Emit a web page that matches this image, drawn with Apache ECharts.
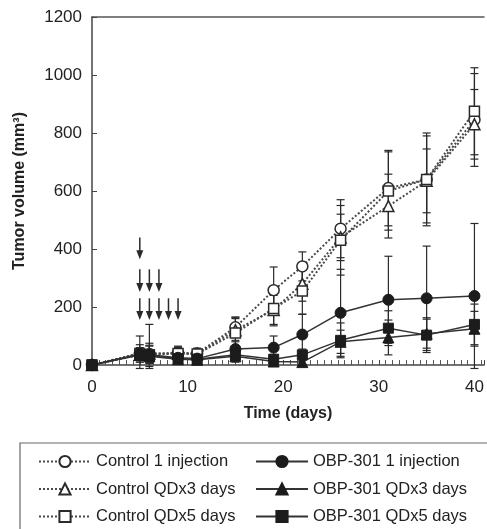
<!DOCTYPE html>
<html><head><meta charset="utf-8">
<script src="https://cdn.jsdelivr.net/npm/echarts@6/dist/echarts.min.js"></script>
<style>html,body{margin:0;padding:0;background:#fff}#c{width:487px;height:529px}</style>
</head><body><div id="c"></div>
<script>
const days = [0, 5, 6, 9, 11, 15, 19, 22, 26, 31, 35, 40];
const ctrl1 = [0, 40, 38, 42, 40, 130, 258, 340, 470, 610, 640, 845];
const ctrl1Sd = [0, 30, 30, 20, 15, 35, 80, 50, 100, 130, 150, 160];
const ctrl3 = [0, 35, 40, 40, 38, 120, 190, 280, 440, 548, 635, 830];
const ctrl3Sd = [0, 25, 100, 20, 15, 40, 50, 60, 80, 110, 110, 120];
const ctrl5 = [0, 40, 35, 40, 38, 110, 195, 255, 430, 600, 640, 875];
const ctrl5Sd = [0, 60, 40, 25, 20, 55, 60, 80, 120, 135, 160, 150];
const obp1 = [0, 38, 35, 25, 22, 55, 60, 105, 180, 225, 230, 238];
const obp1Sd = [0, 20, 30, 10, 10, 30, 40, 70, 150, 150, 180, 250];
const obp3 = [0, 35, 30, 20, 18, 30, 12, 10, 80, 95, 108, 125];
const obp3Sd = [0, 15, 20, 10, 10, 20, 10, 10, 40, 60, 50, 60];
const obp5 = [0, 35, 32, 22, 20, 35, 20, 35, 85, 127, 103, 140];
const obp5Sd = [0, 15, 20, 10, 10, 20, 15, 20, 60, 60, 60, 70];
const seriesNames = ['Control 1 injection', 'Control QDx3 days', 'Control QDx5 days',
  'OBP-301 1 injection', 'OBP-301 QDx3 days', 'OBP-301 QDx5 days'];
const xTicks = [0, 10, 20, 30, 40];
const yTicks = [0, 200, 400, 600, 800, 1000, 1200];
// dosing arrows: day, arrow top value, arrow tip value
const arrowDays = [5, 5, 6, 7, 5, 6, 7, 8, 9];
const arrowTops = [440, 330, 330, 330, 230, 230, 230, 230, 230];
const arrowTips = [365, 252, 252, 252, 155, 155, 155, 155, 155];

const INK = '#2a2a2a';
const FONT = 'Liberation Sans, Arial, sans-serif';

function pts(vals) { return days.map((d, i) => [d, vals[i]]); }
function errData(vals, sds) {
  return days.map((d, i) => [d, Math.max(vals[i] - sds[i], -12), vals[i] + sds[i]]);
}
function errSeries(vals, sds) {
  return {
    type: 'custom', data: errData(vals, sds), z: 1, silent: true,
    renderItem: function (params, api) {
      if (api.value(2) - api.value(1) <= 0) return null;
      const x = api.value(0);
      const lo = api.coord([x, api.value(1)]);
      const hi = api.coord([x, api.value(2)]);
      const w = 4;
      const st = { stroke: INK, lineWidth: 1.2 };
      return { type: 'group', children: [
        { type: 'line', shape: { x1: lo[0], y1: lo[1], x2: hi[0], y2: hi[1] }, style: st },
        { type: 'line', shape: { x1: lo[0] - w, y1: lo[1], x2: lo[0] + w, y2: lo[1] }, style: st },
        { type: 'line', shape: { x1: hi[0] - w, y1: hi[1], x2: hi[0] + w, y2: hi[1] }, style: st }
      ]};
    }
  };
}
function ctrlSeries(name, vals, symbol, size) {
  return {
    name: name, type: 'line', data: pts(vals), symbol: symbol, symbolSize: size,
    showAllSymbol: true, z: 3,
    lineStyle: { type: 'dotted', width: 2, color: '#4a4a4a' },
    itemStyle: { color: '#fff', borderColor: INK, borderWidth: 1.5 }
  };
}
function obpSeries(name, vals, symbol, size) {
  return {
    name: name, type: 'line', data: pts(vals), symbol: symbol, symbolSize: size,
    showAllSymbol: true, z: 4,
    lineStyle: { type: 'solid', width: 1.5, color: '#333' },
    itemStyle: { color: '#1c1c1c', borderColor: '#1c1c1c', borderWidth: 1 }
  };
}

const chart = echarts.init(document.getElementById('c'), null, { renderer: 'canvas' });
const legendText = { fontFamily: FONT, fontSize: 16.5, color: '#222' };
chart.setOption({
  backgroundColor: '#fff',
  animation: false,
  textStyle: { fontFamily: FONT },
  grid: { left: 92, top: 17, width: 396, height: 348 },
  xAxis: [{
    type: 'value', min: 0, max: 41, interval: 10,
    axisLine: { show: true, lineStyle: { color: '#444', width: 1.5 } },
    axisTick: { show: true, inside: true, length: 5, lineStyle: { color: '#444' } },
    minorTick: { show: true, splitNumber: 14, length: 5, lineStyle: { color: '#555' } },
    splitLine: { show: false },
    axisLabel: { margin: 14, fontSize: 17, color: '#222', fontFamily: FONT,
      formatter: v => (xTicks.indexOf(v) >= 0 ? String(v) : '') },
    name: 'Time (days)', nameLocation: 'middle', nameGap: 41,
    nameTextStyle: { fontSize: 16, fontWeight: 'bold', color: '#222', fontFamily: FONT }
  }, {
    type: 'value', position: 'top', min: 0, max: 41,
    axisLine: { show: true, lineStyle: { color: '#555', width: 1.5 } },
    axisTick: { show: false }, axisLabel: { show: false }, splitLine: { show: false }
  }],
  yAxis: {
    type: 'value', min: 0, max: 1200, interval: 200,
    axisLine: { show: true, lineStyle: { color: '#444', width: 1.5 } },
    axisTick: { show: true, inside: true, length: 5, lineStyle: { color: '#444' } },
    splitLine: { show: false },
    axisLabel: { margin: 10, fontSize: 17, color: '#222', fontFamily: FONT,
      formatter: v => (yTicks.indexOf(v) >= 0 ? String(v) : '') },
    name: 'Tumor volume (mm³)', nameLocation: 'middle', nameGap: 64, nameRotate: 90,
    nameTextStyle: { fontSize: 16, fontWeight: 'bold', color: '#222', fontFamily: FONT }
  },
  legend: [{
    data: seriesNames.slice(0, 3), orient: 'vertical', left: 38, top: 453, height: 120,
    itemWidth: 52, itemHeight: 14, itemGap: 10.5, padding: 0, textStyle: legendText
  }, {
    data: seriesNames.slice(3), orient: 'vertical', left: 255, top: 453, height: 120,
    itemWidth: 52, itemHeight: 14, itemGap: 10.5, padding: 0, textStyle: legendText
  }],
  graphic: [{
    type: 'rect', shape: { x: 20, y: 443, width: 490, height: 120 },
    style: { fill: 'none', stroke: '#666', lineWidth: 1.2 }, silent: true
  }],
  series: [
    errSeries(ctrl1, ctrl1Sd), errSeries(ctrl3, ctrl3Sd), errSeries(ctrl5, ctrl5Sd),
    errSeries(obp1, obp1Sd), errSeries(obp3, obp3Sd), errSeries(obp5, obp5Sd),
    ctrlSeries(seriesNames[0], ctrl1, 'circle', 11),
    ctrlSeries(seriesNames[1], ctrl3, 'triangle', 11),
    ctrlSeries(seriesNames[2], ctrl5, 'rect', 10),
    obpSeries(seriesNames[3], obp1, 'circle', 11),
    obpSeries(seriesNames[4], obp3, 'triangle', 11),
    obpSeries(seriesNames[5], obp5, 'rect', 10),
    {
      type: 'custom', silent: true, z: 5,
      data: arrowDays.map((d, i) => [d, arrowTops[i], arrowTips[i]]),
      renderItem: function (params, api) {
        const top = api.coord([api.value(0), api.value(1)]);
        const tip = api.coord([api.value(0), api.value(2)]);
        const hw = 3.5, hh = 9;
        return { type: 'group', children: [
          { type: 'line', shape: { x1: top[0], y1: top[1], x2: tip[0], y2: tip[1] - hh + 1 },
            style: { stroke: INK, lineWidth: 1.5 } },
          { type: 'polygon', shape: { points: [[tip[0] - hw, tip[1] - hh], [tip[0] + hw, tip[1] - hh], [tip[0], tip[1]]] },
            style: { fill: INK } }
        ]};
      }
    }
  ]
});
</script></body></html>
